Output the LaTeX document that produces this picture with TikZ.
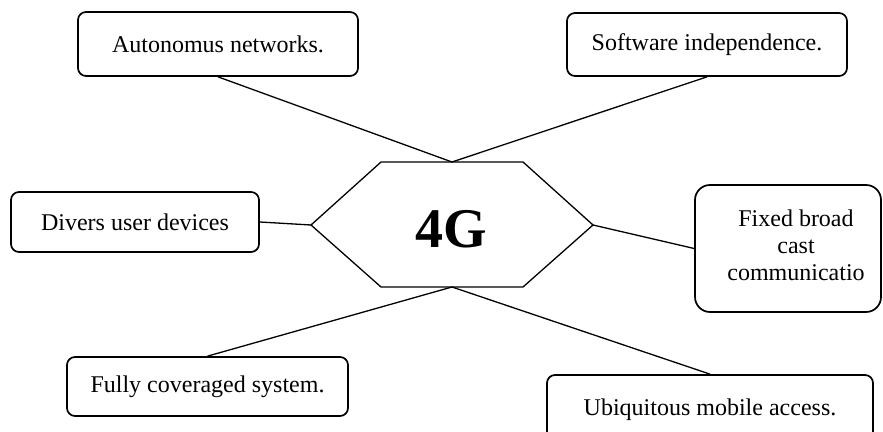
\documentclass[tikz,border=0pt]{standalone}
\usepackage{fontspec}
\setmainfont{Liberation Serif}
\tikzset{
  featbox/.style={draw, line width=0.85pt, rounded corners=4pt, align=center,
    font=\fontsize{12}{14}\selectfont, inner sep=2pt},
  link/.style={line width=0.65pt},
}

\begin{document}
\begin{tikzpicture}[x=0.5pt,y=-0.5pt]
  \useasboundingbox (0,0) rectangle (883,432);
  \clip (0,0) rectangle (883,432);

  % the hexagon in the middle
  \node (hub) at (451,229) {\fontsize{28}{30}\selectfont\bfseries 4G};
  \coordinate (hubN) at (452,162);
  \coordinate (hubS) at (452,287);
  \coordinate (hubW) at (311,225);
  \coordinate (hubE) at (593,225);
  \draw [link] (381,162) -- (hubN) -- (523,162) -- (hubE) -- (523,287)
    -- (hubS) -- (381,287) -- (hubW) -- cycle;

  % features round it
  \node [featbox, minimum width=140pt, minimum height=32pt] (auto) at (218,44) {Autonomus networks.};
  \node [featbox, minimum width=140pt, minimum height=31.5pt] (soft) at (707,44.5) {Software independence.};
  \node [featbox, minimum width=124pt, minimum height=30pt] (divers) at (135,222) {Divers user devices};
  \node [featbox, rounded corners=7.5pt, minimum width=93pt, minimum height=63.5pt] (fixed) at (788,248.5)
    {\fontsize{12}{13.5}\selectfont\begin{tabular}{@{\hspace{8pt}}c@{}}Fixed broad\\ cast\\ communicatio\end{tabular}};
  \node [featbox, minimum width=140.5pt, minimum height=29.5pt] (fully) at (207.5,386.5) {Fully coveraged system.};
  \node [featbox, minimum width=163pt, minimum height=35pt] (ubiq) at (710,410) {Ubiquitous mobile access.};

  \draw [link] (auto.south) -- (hubN);
  \draw [link] (soft.south) -- (hubN);
  \draw [link] (divers.east) -- (hubW);
  \draw [link] (fixed.west) -- (hubE);
  \draw [link] (fully.north) -- (hubS);
  \draw [link] (ubiq.north) -- (hubS);
\end{tikzpicture}
\end{document}
